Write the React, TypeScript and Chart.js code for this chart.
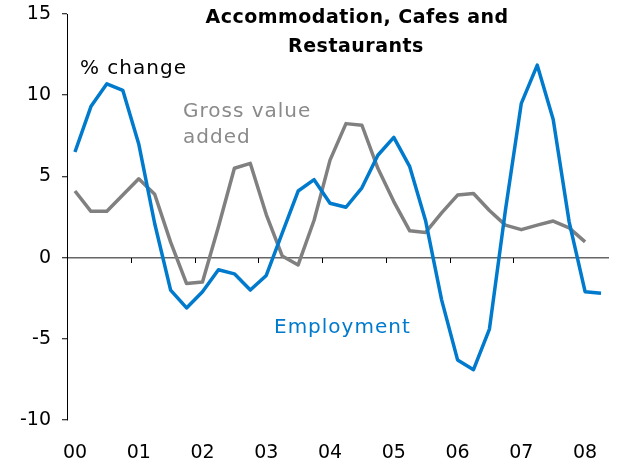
import React, { useEffect, useRef } from "react";
import { Chart, registerables } from "chart.js";

Chart.register(...registerables);

const categories = [
  "Mar-00", "Jun-00", "Sep-00", "Dec-00",
  "Mar-01", "Jun-01", "Sep-01", "Dec-01",
  "Mar-02", "Jun-02", "Sep-02", "Dec-02",
  "Mar-03", "Jun-03", "Sep-03", "Dec-03",
  "Mar-04", "Jun-04", "Sep-04", "Dec-04",
  "Mar-05", "Jun-05", "Sep-05", "Dec-05",
  "Mar-06", "Jun-06", "Sep-06", "Dec-06",
  "Mar-07", "Jun-07", "Sep-07", "Dec-07",
  "Mar-08", "Jun-08",
];

const yearLabels = ["00", "01", "02", "03", "04", "05", "06", "07", "08"];

const employment = [
  6.5, 9.3, 10.7, 10.3,
  7.0, 2.1, -2.0, -3.1,
  -2.1, -0.75, -1.0, -2.0,
  -1.1, 1.5, 4.1, 4.8,
  3.35, 3.1, 4.3, 6.3,
  7.4, 5.6, 2.25, -2.6,
  -6.3, -6.9, -4.4, 2.9,
  9.5, 11.85, 8.5, 2.2,
  -2.1, -2.2,
];

const grossValueAdded = [
  4.1, 2.85, 2.85, 3.85,
  4.85, 3.9, 0.95, -1.6,
  -1.5, 1.9, 5.5, 5.8,
  2.65, 0.1, -0.45, 2.3,
  6.0, 8.25, 8.15, 5.5,
  3.45, 1.65, 1.55, 2.75,
  3.85, 3.95, 2.9, 2.0,
  1.72, 2.0, 2.25, 1.83,
  0.97, null,
];

const BLUE = "#007ACC";
const GREY = "#808080";
const FONT = "'DejaVu Sans', Verdana, sans-serif";

const overlayPlugin = {
  id: "overlay",
  beforeDatasetsDraw(chart: any) {
    const { ctx, scales } = chart;
    const x = scales.x;
    const y = scales.y;
    const y0 = Math.round(y.getPixelForValue(0));
    ctx.save();
    ctx.strokeStyle = "#000";
    ctx.lineWidth = 1;
    for (let i = 4; i < categories.length; i += 4) {
      const px = Math.round((x.getPixelForValue(i - 1) + x.getPixelForValue(i)) / 2) + 0.5;
      ctx.beginPath();
      ctx.moveTo(px, y0);
      ctx.lineTo(px, y0 + 5);
      ctx.stroke();
    }
    ctx.restore();
  },
  afterDraw(chart: any) {
    const { ctx } = chart;
    ctx.save();
    // title
    ctx.fillStyle = "#000";
    ctx.font = `bold 19px ${FONT}`;
    (ctx as any).letterSpacing = "0.5px";
    ctx.textAlign = "center";
    ctx.textBaseline = "alphabetic";
    ctx.fillText("Accommodation, Cafes and", 357, 23);
    ctx.fillText("Restaurants", 356, 52);
    // annotations
    ctx.textAlign = "left";
    ctx.font = `20px ${FONT}`;
    (ctx as any).letterSpacing = "1px";
    ctx.fillStyle = "#000";
    ctx.fillText("% change", 80, 74);
    ctx.fillStyle = "#8a8a8a";
    ctx.fillText("Gross value", 183, 117);
    ctx.fillText("added", 183, 143);
    ctx.fillStyle = BLUE;
    ctx.fillText("Employment", 274, 333);
    ctx.restore();
  },
};

export default function App() {
  const ref = useRef<HTMLCanvasElement | null>(null);

  useEffect(() => {
    document.body.style.margin = "0";
    const canvas = ref.current;
    if (!canvas) return;
    const chart = new Chart(canvas, {
      type: "line",
      data: {
        labels: categories,
        datasets: [
          {
            label: "Employment",
            data: employment,
            borderColor: BLUE,
            borderWidth: 3.5,
            pointRadius: 0,
            tension: 0,
            borderJoinStyle: "round",
            fill: false,
          },
          {
            label: "Gross value added",
            data: grossValueAdded,
            borderColor: GREY,
            borderWidth: 3.5,
            pointRadius: 0,
            tension: 0,
            borderJoinStyle: "round",
            fill: false,
          },
        ],
      },
      options: {
        responsive: false,
        animation: false,
        events: [],
        layout: { padding: { top: 14, right: 20, left: 0, bottom: 0 } },
        plugins: {
          legend: { display: false },
          title: { display: false },
          tooltip: { enabled: false },
        },
        scales: {
          x: {
            type: "category",
            offset: true,
            grid: { display: false, drawTicks: false, offset: true },
            border: { display: false },
            ticks: {
              autoSkip: false,
              maxRotation: 0,
              minRotation: 0,
              padding: 22,
              color: "#000",
              font: { family: FONT, size: 19 },
              callback: (_v: any, index: number) =>
                index % 4 === 0 ? yearLabels[index / 4] : "",
            },
            afterFit: (s: any) => {
              s.height = 47;
              s.paddingLeft = 0;
              s.paddingRight = 0;
            },
          },
          y: {
            min: -10,
            max: 15,
            ticks: {
              stepSize: 5,
              padding: 11,
              color: "#000",
              font: { family: FONT, size: 19 },
            },
            grid: {
              drawOnChartArea: true,
              drawTicks: true,
              tickLength: 5,
              tickColor: "#000",
              tickWidth: 1,
              lineWidth: 1.5,
              color: (c: any) =>
                c.tick && c.tick.value === 0 ? "#666666" : "rgba(0,0,0,0)",
            },
            border: { display: true, color: "#000", width: 1 },
            afterFit: (s: any) => {
              s.width = 67;
              s.paddingTop = 0;
              s.paddingBottom = 0;
            },
          },
        },
      },
      plugins: [overlayPlugin],
    });
    return () => chart.destroy();
  }, []);

  return (
    <div style={{ width: 629, height: 467 }}>
      <canvas ref={ref} width={629} height={467} />
    </div>
  );
}
